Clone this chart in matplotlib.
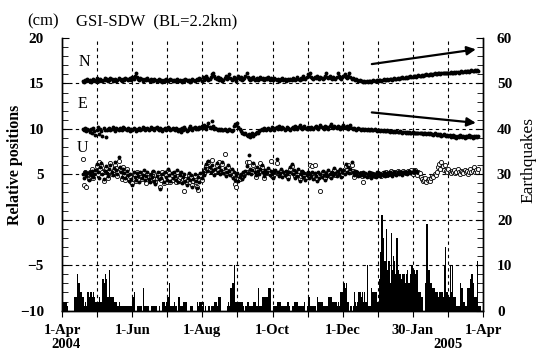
import numpy as np
import matplotlib.pyplot as plt
from matplotlib.ticker import MultipleLocator

plt.rcParams['font.family'] = ['Liberation Serif', 'DejaVu Serif']

# x is days since 1-Apr-2004; GPS series start on day 18
start_day = 18

n_vals = [
    15.3,15.2,15.4,15.3,15.5,15.3,15.4,15.2,15.3,15.5,15.4,15.3,15.6,15.4,15.3,15.5,15.4,15.3,15.4,15.6,
    15.4,15.5,15.3,15.4,15.6,15.5,15.3,15.4,15.5,15.3,15.4,15.6,15.5,15.4,15.3,15.5,15.4,15.6,15.5,15.4,
    15.5,15.6,15.4,15.7,15.5,15.8,16.1,15.7,15.5,15.4,15.6,15.5,15.3,15.4,15.5,15.4,15.6,15.4,15.3,15.5,
    15.4,15.3,15.5,15.4,15.3,15.4,15.5,15.3,15.4,15.2,15.4,15.3,15.5,15.4,15.3,15.4,15.5,15.4,15.3,15.4,
    15.3,15.4,15.5,15.3,15.4,15.3,15.2,15.4,15.3,15.5,15.4,15.3,15.4,15.2,15.3,15.5,15.4,15.3,15.4,15.5,
    15.4,15.6,15.5,15.3,15.7,15.4,15.5,15.8,15.6,15.4,15.5,15.7,16.0,16.2,15.8,15.6,15.5,15.7,15.4,15.6,
    15.5,15.3,15.4,15.6,15.8,15.5,15.7,16.0,15.6,15.4,15.5,15.7,15.5,15.3,15.6,15.8,15.5,15.7,15.4,15.5,
    15.6,15.8,16.1,15.7,15.5,15.4,15.6,15.5,15.7,15.4,15.5,15.6,15.4,15.5,15.7,15.5,15.6,15.4,15.5,15.6,
    15.5,15.7,15.4,15.6,15.5,15.4,15.6,15.5,15.4,15.5,15.3,15.4,15.5,15.6,15.4,15.5,15.3,15.4,15.5,15.4,
    15.5,15.4,15.6,15.5,15.4,15.5,15.7,15.5,15.4,15.6,15.5,15.8,15.6,15.5,15.7,16.0,15.8,16.2,15.7,15.6,
    15.5,15.7,15.6,15.8,15.6,15.5,15.7,15.6,15.5,15.6,15.8,16.1,15.7,15.6,15.8,15.6,15.5,15.7,15.6,15.5,
    15.7,16.1,15.8,15.6,15.5,15.7,15.8,16.0,15.7,15.6,15.8,16.1,15.7,15.5,15.6,15.5,15.4,15.5,15.4,15.3,
    15.4,15.3,15.3,15.2,15.3,15.2,15.3,15.2,15.3,15.3,15.2,15.3,15.4,15.3,15.3,15.4,15.3,15.4,15.4,15.3,
    15.4,15.5,15.4,15.4,15.5,15.4,15.5,15.5,15.4,15.5,15.6,15.5,15.5,15.6,15.5,15.6,15.6,15.7,15.6,15.6,
    15.7,15.6,15.7,15.7,15.8,15.7,15.7,15.8,15.8,15.7,15.8,15.9,15.8,15.8,15.9,15.8,15.9,15.9,16.0,15.9,
    15.9,16.0,16.0,15.9,16.0,16.1,16.0,16.0,16.1,16.1,16.0,16.1,16.2,16.1,16.1,16.2,16.1,16.2,16.2,16.3,
    16.2,16.2,16.3,16.2,16.3,16.3,16.2,16.3,16.4,16.3,16.3,16.4,16.3,16.4,16.4,16.3,16.4,16.5,16.4,16.4,
    16.5,16.4,16.5,16.4,
]

e_vals = [
    10.0,9.9,10.1,9.8,10.0,9.9,9.7,10.0,9.6,10.1,9.8,9.3,9.9,10.2,9.4,10.0,9.8,9.2,10.1,9.9,
    9.1,9.9,10.0,10.1,9.9,10.0,10.2,10.0,9.8,10.1,10.0,9.9,10.1,10.0,9.9,10.2,10.1,10.0,9.9,10.1,
    10.0,9.8,10.0,9.9,10.1,10.0,9.8,9.9,10.0,10.1,9.9,10.0,10.2,10.1,9.9,10.0,10.1,9.9,10.0,10.2,
    10.1,10.0,9.9,10.1,10.2,10.0,9.9,10.1,10.0,9.8,10.0,10.1,9.9,10.0,10.2,10.1,9.9,10.0,10.1,10.0,
    9.9,10.1,10.0,9.8,10.0,9.7,10.1,9.9,10.2,10.0,9.8,9.9,10.1,10.3,10.0,9.9,10.1,10.2,10.0,10.1,
    10.0,10.2,10.1,10.3,10.1,10.4,10.2,10.0,10.3,10.6,10.2,10.1,10.9,10.3,10.0,10.1,10.0,9.9,10.0,9.9,
    10.0,9.9,9.9,10.0,9.9,9.8,9.9,10.0,9.9,9.8,9.9,10.3,10.5,10.4,10.6,10.2,10.0,9.8,9.6,9.5,
    9.4,9.6,9.3,9.2,9.4,9.1,9.3,9.5,9.2,9.4,9.6,9.7,9.5,9.8,9.9,10.0,9.9,10.1,10.0,9.9,
    10.0,10.1,9.9,10.0,10.2,10.0,9.9,10.1,10.2,10.0,10.3,10.1,10.0,10.2,10.1,9.9,10.0,10.2,10.1,10.0,
    9.9,10.1,10.2,10.0,10.3,10.1,10.0,10.2,10.4,10.1,10.0,10.2,10.3,10.1,10.0,10.2,10.1,10.0,10.2,10.1,
    10.0,10.2,10.3,10.1,10.0,10.2,10.4,10.2,10.1,10.0,10.3,10.1,10.2,10.0,10.3,10.5,10.2,10.1,10.3,10.2,
    10.1,10.3,10.2,10.0,10.2,10.1,10.4,10.2,10.1,10.3,10.0,10.2,10.4,10.1,10.0,10.1,10.0,9.9,10.0,10.1,
    10.0,9.9,10.0,10.0,9.9,10.0,9.9,10.0,9.9,9.9,10.0,9.9,9.9,10.0,9.9,9.8,9.9,9.9,9.8,9.9,
    9.8,9.9,9.8,9.8,9.9,9.8,9.7,9.8,9.8,9.7,9.8,9.7,9.8,9.7,9.7,9.8,9.7,9.6,9.7,9.7,
    9.6,9.7,9.6,9.7,9.6,9.6,9.7,9.5,9.6,9.6,9.5,9.6,9.5,9.6,9.5,9.4,9.5,9.5,9.4,9.5,
    9.4,9.5,9.4,9.4,9.3,9.5,9.4,9.3,9.4,9.3,9.4,9.2,9.3,9.4,9.3,9.2,9.3,9.2,9.3,9.1,
    9.2,9.3,9.1,9.2,9.0,9.2,9.1,9.3,9.2,9.1,9.2,9.0,9.2,9.1,9.2,9.3,9.1,9.2,9.0,9.2,
    9.1,9.2,9.1,9.2,
]

# U, filled symbols (ends early March)
u_vals = [
    5.0,4.6,5.3,4.8,5.1,4.4,5.2,4.9,5.4,4.7,5.0,5.5,6.1,5.2,4.6,5.8,6.2,5.0,4.5,5.4,
    5.9,5.1,4.8,5.6,6.0,5.3,4.9,5.7,6.4,5.5,5.0,6.9,5.8,5.2,4.7,5.6,5.1,4.6,5.4,4.9,
    4.3,5.0,4.5,3.8,5.2,4.7,4.4,5.1,4.8,4.2,5.3,4.6,4.9,5.5,4.4,4.8,5.2,4.5,4.1,5.0,
    4.7,5.4,4.3,3.9,4.8,5.2,4.5,3.4,4.6,5.0,4.2,5.3,4.7,4.4,5.6,4.9,4.3,5.1,4.6,5.3,
    4.8,4.4,5.5,4.2,4.9,5.2,4.0,4.7,5.0,4.3,3.8,4.6,5.1,4.4,4.9,3.6,4.5,5.0,4.3,3.5,
    4.7,4.2,5.1,4.6,5.3,4.9,5.7,6.1,5.4,6.5,5.8,5.2,6.0,5.5,4.9,5.6,6.2,5.3,5.8,5.0,
    5.5,6.3,5.1,5.7,4.8,5.3,6.0,5.4,4.9,5.6,4.6,5.2,4.4,4.9,5.1,4.3,4.7,5.0,4.5,5.2,
    4.8,5.4,5.9,5.1,7.1,5.6,5.0,5.5,6.2,5.3,4.9,5.8,5.4,5.0,5.6,6.0,5.2,4.8,5.5,5.1,
    5.3,5.7,4.9,5.4,5.0,4.6,5.2,5.5,6.7,5.3,4.8,5.1,5.6,4.7,5.2,4.9,5.4,5.0,4.5,5.3,
    5.8,6.1,5.0,5.5,4.6,5.2,4.8,5.6,4.3,5.0,5.4,4.7,5.1,4.4,4.9,5.3,4.6,5.0,4.8,5.2,
    4.5,5.1,4.8,4.3,5.2,4.6,5.0,4.7,5.4,4.9,4.4,5.1,4.8,5.5,5.0,4.6,5.3,4.9,5.7,5.1,
    4.8,5.4,5.0,5.6,4.7,5.2,5.5,5.0,6.1,5.3,5.8,5.1,5.6,6.3,5.2,4.9,5.4,5.0,5.2,4.8,
    5.1,4.9,5.0,5.3,4.8,5.1,4.7,5.0,5.2,4.9,4.6,5.1,4.8,5.0,4.7,5.2,4.9,5.1,4.8,5.0,
    4.9,5.2,4.8,5.0,5.1,4.9,5.2,5.0,4.8,5.1,5.3,5.0,4.9,5.2,5.0,5.1,5.3,4.9,5.2,5.1,
    5.3,5.0,5.2,5.4,5.1,5.3,5.2,5.5,5.3,5.4,5.2,
]

# U, open symbols
u_open_vals = [
    6.7,3.8,5.2,3.6,5.0,4.5,5.3,4.8,5.6,4.6,5.1,5.3,5.9,5.0,6.4,5.6,6.0,5.2,4.3,5.5,
    5.7,5.3,4.6,5.4,6.2,5.0,5.1,5.5,6.0,5.7,4.8,6.5,5.6,5.4,4.5,5.8,4.9,4.4,5.6,4.7,
    4.5,4.8,4.2,4.0,5.0,4.9,4.3,5.3,4.6,4.4,5.1,4.5,5.1,5.3,4.6,4.0,5.0,4.7,4.3,4.8,
    4.9,5.2,4.5,4.1,4.6,5.0,4.7,3.6,4.4,5.2,4.0,5.1,4.9,4.2,5.4,5.1,4.1,4.9,4.4,5.1,
    4.6,4.2,5.3,4.4,4.7,5.0,4.2,4.5,3.2,4.5,4.0,4.4,4.9,4.2,4.7,3.8,4.3,4.8,4.1,3.6,
    3.3,4.4,4.9,4.4,5.1,5.1,5.5,5.9,5.6,6.3,5.6,5.4,6.6,5.3,5.1,5.4,6.0,5.5,6.4,5.2,
    5.3,6.1,5.3,7.2,5.0,5.1,5.8,5.2,5.1,5.4,4.8,5.0,3.9,3.6,4.9,4.5,4.5,4.8,4.7,5.0,
    5.0,5.2,6.4,5.3,6.4,5.4,5.2,5.3,6.0,5.5,4.7,5.6,5.2,5.2,6.2,5.8,5.4,4.6,5.3,5.3,
    5.1,5.5,5.1,6.5,4.8,4.8,5.0,5.3,6.2,5.1,5.0,4.9,5.4,4.9,5.0,5.1,5.2,4.8,4.7,5.1,
    5.6,5.9,5.2,5.3,4.8,5.0,5.0,5.4,4.5,4.8,5.2,4.9,4.9,4.6,4.7,5.1,4.8,6.0,5.0,5.9,
    4.7,6.0,4.6,4.5,5.0,4.8,3.2,4.9,5.2,4.7,4.6,4.9,5.0,5.3,4.8,4.8,5.1,5.1,5.5,4.9,
    5.0,5.2,5.2,5.4,4.9,5.0,5.3,5.2,5.9,5.5,6.0,5.3,5.4,6.0,5.4,4.7,5.2,5.2,5.0,5.0,
    4.9,5.1,4.8,4.2,5.0,4.9,4.9,4.8,5.0,5.1,4.8,4.9,5.0,4.8,4.9,5.0,5.1,4.9,5.0,4.8,
    5.1,5.0,5.0,5.2,4.9,5.1,5.0,5.4,5.0,5.3,5.1,5.2,5.1,5.4,5.2,5.3,5.1,5.1,5.4,5.3,
    5.1,5.2,5.4,5.2,5.3,5.5,5.0,5.3,5.5,5.1,4.9,5.3,5.1,4.7,4.5,4.3,4.4,4.6,4.2,4.4,
    4.5,4.3,4.6,4.8,4.7,5.0,4.9,5.2,5.8,6.1,5.6,6.3,5.9,5.5,6.0,5.4,5.2,5.6,5.3,5.1,
    5.4,5.2,5.5,5.1,5.3,5.6,5.2,5.0,5.4,5.3,5.1,5.5,5.2,5.4,5.0,5.3,5.6,5.2,5.4,5.8,
    5.3,5.5,5.2,5.6,
]

# daily number of earthquakes from 1-Apr-2004
quakes = [
    2,2,2,2,1,0,0,0,0,0,  3,3,3,8,6,6,4,3,3,1,  2,1,4,3,4,4,3,4,3,2,
    2,2,3,2,2,7,6,8,7,3,  3,9,3,3,3,2,2,2,1,2,  1,1,1,1,1,1,1,1,1,1,
    1,3,4,0,0,1,1,1,1,0,  5,1,1,1,1,0,0,1,1,1,  1,1,0,0,1,0,0,2,2,1,
    2,3,3,6,1,1,1,2,1,1,  0,3,1,1,1,2,2,2,0,0,  0,1,1,1,0,0,0,2,1,2,
    2,1,2,0,1,0,0,1,0,1,  1,1,2,2,1,3,3,3,0,0,  0,0,0,1,2,1,5,6,6,10,
    2,2,2,2,2,2,2,1,0,1,  2,2,1,1,1,1,2,2,1,1,  5,1,1,3,3,3,3,3,3,5,
    5,0,0,1,1,1,2,2,2,2,  1,1,1,1,1,2,2,1,0,1,  1,2,2,2,2,1,1,1,1,1,
    2,0,1,3,3,1,1,1,1,1,  0,3,2,2,2,2,1,1,1,1,  1,3,3,3,2,2,2,2,1,2,
    1,4,4,4,6,5,6,2,2,0,  1,0,1,4,2,1,2,4,4,3,  4,2,4,2,10,1,1,1,5,4,
    4,4,4,2,2,7,13,21,16,11,  11,18,9,11,6,17,9,12,11,8,  16,9,8,8,7,8,8,6,8,9,
    6,6,8,10,9,9,8,9,9,4,  4,3,3,0,0,6,19,9,9,6,  6,5,5,4,4,4,3,4,4,4,
    3,10,14,4,4,3,10,4,10,3,  3,3,1,1,1,6,5,5,2,1,  1,5,5,5,7,8,6,3,3,3,
    11,1,1,0,0,
]

month_ticks = np.linspace(0, 365, 13)
month_labels = ['1-Apr', '', '1-Jun', '', '1-Aug', '', '1-Oct', '', '1-Dec', '', '30-Jan', '', '1-Apr']

# trend arrows (day, cm)
arrow_n = [(268.6, 17.13), (358.8, 18.75)]
arrow_e = [(268.6, 11.81), (358.8, 10.66)]

fig = plt.figure(figsize=(5.39, 3.63), dpi=100)
ax = fig.add_axes([62 / 539, 1 - 310.6 / 363, 421 / 539, 272.6 / 363])
ax2 = ax.twinx()

days_n = np.arange(start_day, start_day + len(n_vals))
days_e = np.arange(start_day, start_day + len(e_vals))
days_u = np.arange(start_day, start_day + len(u_vals))
days_uo = np.arange(start_day, start_day + len(u_open_vals))

ax.plot(days_n, n_vals, 'o', ms=2.8, color='black', mew=0)
ax.plot(days_e, e_vals, 'o', ms=2.8, color='black', mew=0)
ax.plot(days_uo, u_open_vals, 'o', ms=3.0, mfc='white', mec='black', mew=0.6)
ax.plot(days_u, u_vals, 'o', ms=2.8, color='black', mew=0)

ax2.bar(np.arange(len(quakes)) + 0.5, quakes, width=1.0, color='black',
        linewidth=0, antialiased=False)

for (x0, y0), (x1, y1) in [arrow_n, arrow_e]:
    ax.annotate('', xy=(x1, y1), xytext=(x0, y0),
                arrowprops=dict(arrowstyle='-|>', color='black', lw=1.6,
                                mutation_scale=13, shrinkA=0, shrinkB=0))

ax.text(19, 17.35, 'N', ha='center', va='center', fontsize=11.5)
ax.text(18, 12.7, 'E', ha='center', va='center', fontsize=11.5)
ax.text(18, 7.9, 'U', ha='center', va='center', fontsize=11.5)

ax.set_xlim(0, 365)
ax.set_ylim(-10, 20)
ax2.set_ylim(0, 60)

ax.set_xticks(month_ticks)
ax.set_xticklabels(month_labels, fontsize=10.5, fontweight='bold')
ax.set_yticks(np.arange(-10, 21, 5))
ax.yaxis.set_minor_locator(MultipleLocator(1))
ax2.set_yticks(np.arange(0, 61, 10))
ax2.yaxis.set_minor_locator(MultipleLocator(2))
for lab in ax.get_yticklabels() + ax2.get_yticklabels():
    lab.set_fontsize(11)
    lab.set_fontweight('bold')

ax.tick_params(axis='y', which='major', direction='in', length=5, pad=13)
ax.tick_params(axis='y', which='minor', direction='in', length=4)
ax.tick_params(axis='x', direction='out', length=4, pad=6)
ax2.tick_params(axis='y', which='major', direction='in', length=5, pad=10)
ax2.tick_params(axis='y', which='minor', direction='in', length=4)

ax.grid(True, which='major', linestyle=(0, (3, 3)), color='black', linewidth=0.8)
ax.set_axisbelow(True)
ygrid = ax.get_ygridlines()
ygrid[0].set_visible(False)
ygrid[-1].set_visible(False)
xgrid = ax.get_xgridlines()
xgrid[0].set_visible(False)
xgrid[-1].set_visible(False)

for a in (ax, ax2):
    a.spines['top'].set_visible(False)
    for s in a.spines.values():
        s.set_linewidth(1.0)

fig.text(27 / 539, 1 - 21 / 363, '(cm)', ha='left', va='center', fontsize=12)
fig.text(76 / 539, 1 - 21 / 363, 'GSI-SDW  (BL=2.2km)', ha='left', va='center', fontsize=12)
fig.text(66 / 539, 1 - 344 / 363, '2004', ha='center', va='center', fontsize=10.5, fontweight='bold')
fig.text(448 / 539, 1 - 344 / 363, '2005', ha='center', va='center', fontsize=10.5, fontweight='bold')
fig.text(15 / 539, 1 - 165 / 363, 'Relative positions', rotation=90, ha='center', va='center',
         fontsize=11.5, fontweight='bold')
fig.text(528 / 539, 1 - 160 / 363, 'Earthquakes', rotation=90, ha='center', va='center',
         fontsize=12.5)

fig.savefig('out.png', dpi=100)
